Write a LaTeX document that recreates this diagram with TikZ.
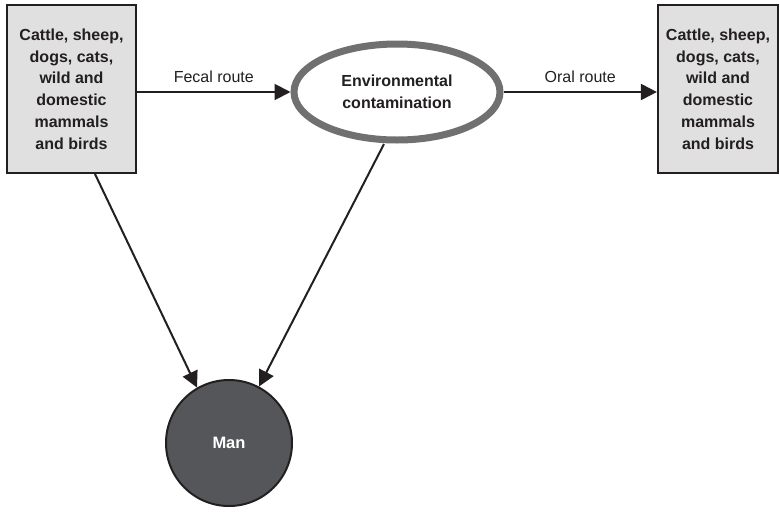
\documentclass[tikz,border=0pt]{standalone}
\usepackage{fontspec}
\setmainfont{Liberation Sans}
\usetikzlibrary{arrows.meta,shapes.geometric}
\definecolor{boxgray}{HTML}{E0E0E0}
\definecolor{ringgray}{HTML}{707070}
\definecolor{mangray}{HTML}{55565A}
\definecolor{ink}{HTML}{231F20}
\begin{document}
\begin{tikzpicture}[x=1pt,y=-1pt,
  hostbox/.style={draw=ink,line width=2.2pt,fill=boxgray,align=center,font=\fontsize{16}{21.8}\selectfont\bfseries,text=ink,inner sep=0pt},
  conn/.style={draw=ink,line width=2pt,-{Triangle[length=16pt,width=16pt]}},
  lbl/.style={font=\fontsize{16}{18}\selectfont,text=ink}]
\useasboundingbox (0,0) rectangle (780,515);
\node[hostbox,minimum width=129pt,minimum height=168pt] (src) at (71.5,89) {Cattle, sheep,\\dogs, cats,\\wild and\\domestic\\mammals\\and birds};
\node[hostbox,minimum width=120pt,minimum height=168pt] (dst) at (718,89) {Cattle, sheep,\\dogs, cats,\\wild and\\domestic\\mammals\\and birds};
\node[ellipse,draw=ringgray,line width=7pt,fill=white,minimum width=206pt,minimum height=96pt,align=center,font=\fontsize{16}{22}\selectfont\bfseries,text=ink,inner sep=0pt] (env) at (397,92) {Environmental\\contamination};
\node[circle,draw=ink,line width=2pt,fill=mangray,minimum size=126pt,font=\fontsize{16.5}{18}\selectfont\bfseries,text=white] (man) at (229,443) {Man};
\draw[conn] (src.east |- 0,92) -- node[lbl,above=5pt]{Fecal route} (env.west);
\draw[conn] (env.east) -- node[lbl,above=5pt]{Oral route} (dst.west |- 0,92);
\coordinate (s1) at (95,174);
\coordinate (e1) at (384,144);
\draw[conn] (s1) -- (man.120);
\draw[conn] (e1) -- (man.62);
\end{tikzpicture}
\end{document}
